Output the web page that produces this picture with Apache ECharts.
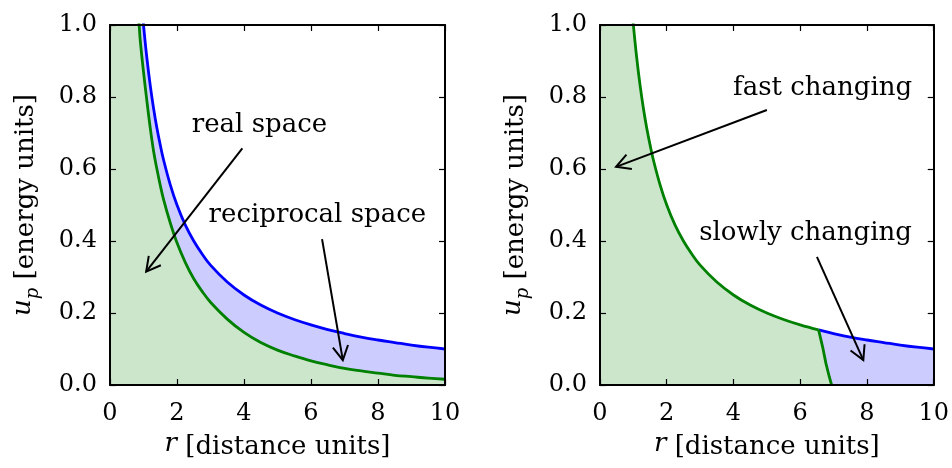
<!DOCTYPE html>
<html><head><meta charset="utf-8">
<script src="https://cdn.jsdelivr.net/npm/echarts@6/dist/echarts.min.js"></script>
<style>html,body{margin:0;padding:0;background:#fff}#c{width:952px;height:468px}</style>
</head><body><div id="c"></div>
<script>
const FONT = "'DejaVu Serif', serif";

// ---- Left panel data (r in distance units, u_p in energy units) ----
const leftBlueR = [0.95,1.0,1.1,1.2,1.3,1.4,1.5,1.6,1.8,2.0,2.25,2.5,2.75,3.0,3.5,4.0,4.5,5.0,5.5,6.0,6.5,7.0,7.5,8.0,8.5,9.0,9.5,10.0];
const leftBlueU = [1.05,1.0,0.909,0.833,0.769,0.714,0.667,0.625,0.556,0.5,0.444,0.4,0.364,0.333,0.286,0.25,0.222,0.2,0.182,0.167,0.154,0.143,0.133,0.125,0.118,0.111,0.105,0.1];
const leftGreenR = [0.82,0.87,0.9,1.0,1.1,1.2,1.3,1.4,1.5,1.6,1.8,2.0,2.25,2.5,2.75,3.0,3.5,4.0,4.5,5.0,5.5,6.0,6.5,7.0,7.5,8.0,8.5,9.0,9.5,10.0];
const leftGreenU = [1.05,1.0,0.96,0.87,0.79,0.715,0.65,0.60,0.555,0.515,0.45,0.395,0.34,0.295,0.26,0.23,0.183,0.146,0.118,0.097,0.081,0.067,0.056,0.046,0.039,0.033,0.027,0.023,0.019,0.016];

// ---- Right panel data ----
const rightGreenR = [0.95,1.0,1.1,1.2,1.3,1.4,1.5,1.6,1.8,2.0,2.25,2.5,2.75,3.0,3.5,4.0,4.5,5.0,5.5,6.0,6.55];
const rightGreenU = [1.05,1.0,0.909,0.833,0.769,0.714,0.667,0.625,0.556,0.5,0.444,0.4,0.364,0.333,0.286,0.25,0.222,0.2,0.182,0.167,0.153];
const rightDropR = [6.55,6.67,6.77,6.87,6.94];
const rightDropU = [0.153,0.106,0.060,0.023,0.0];
const rightBlueR = [6.55,7.0,7.5,8.0,8.5,9.0,9.5,10.0];
const rightBlueU = [0.153,0.143,0.133,0.125,0.118,0.111,0.105,0.1];

// ---- Annotations ----
const leftLabels = ['real space', 'reciprocal space'];
const leftLabelPos = [[4.46, 0.722], [6.19, 0.472]];
const leftArrows = [[3.95, 0.657, 1.08, 0.315], [6.33, 0.405, 6.95, 0.069]];
const rightLabels = ['fast changing', 'slowly changing'];
const rightLabelPos = [[6.67, 0.825], [6.16, 0.422]];
const rightArrows = [[5.0, 0.764, 0.48, 0.606], [6.5, 0.356, 7.89, 0.069]];

// ---- Axis settings ----
const xMin = 0, xMax = 10, xStep = 2;
const yMin = 0, yMax = 1, yStep = 0.2;
const xName = '{it|r} [distance units]';
const yName = '{it|u}{sub|p} [energy units]';

const pairs = (rs, us) => rs.map((r, i) => [r, us[i]]);

const TXT = 26, TICK = 24;
const richStyles = {
  it: {fontStyle: 'italic', fontFamily: FONT, fontSize: TXT, color: '#000', lineHeight: 32, verticalAlign: 'top'},
  sub: {fontStyle: 'italic', fontFamily: FONT, fontSize: 18, color: '#000', lineHeight: 18, verticalAlign: 'bottom'}
};
const nameStyle = {fontFamily: FONT, fontSize: TXT, color: '#000', lineHeight: 32, rich: richStyles};

const axLine = {show: true, onZero: false, lineStyle: {color: '#000', width: 2}};
const axTick = {show: true, inside: true, length: 6, lineStyle: {color: '#000', width: 1.2}};

function xAxes(gi) {
  return [
    {gridIndex: gi, type: 'value', min: xMin, max: xMax, interval: xStep, position: 'bottom',
     axisLine: axLine, axisTick: axTick, splitLine: {show: false}, z: 10,
     axisLabel: {margin: 17, color: '#000', fontFamily: FONT, fontSize: TICK},
     name: xName, nameLocation: 'middle', nameGap: 40, nameTextStyle: nameStyle},
    {gridIndex: gi, type: 'value', min: xMin, max: xMax, interval: xStep, position: 'top',
     axisLine: axLine, axisTick: axTick, splitLine: {show: false}, z: 10,
     axisLabel: {show: false}}
  ];
}
function yAxes(gi) {
  return [
    {gridIndex: gi, type: 'value', min: yMin, max: yMax, interval: yStep, position: 'left',
     axisLine: axLine, axisTick: axTick, splitLine: {show: false}, z: 10,
     axisLabel: {margin: 13, color: '#000', fontFamily: FONT, fontSize: TICK, formatter: v => v.toFixed(1)},
     name: yName, nameLocation: 'middle', nameGap: 68, nameTextStyle: nameStyle},
    {gridIndex: gi, type: 'value', min: yMin, max: yMax, interval: yStep, position: 'right',
     axisLine: axLine, axisTick: axTick, splitLine: {show: false}, z: 10,
     axisLabel: {show: false}}
  ];
}

function fillSeries(ax, data, color, z) {
  return {type: 'line', xAxisIndex: ax, yAxisIndex: ax, data: data, symbol: 'none', showSymbol: false,
    smooth: false, lineStyle: {width: 0, opacity: 0},
    areaStyle: {color: color, opacity: 1}, z: z, silent: true};
}
function strokeSeries(ax, data, color, z, smooth) {
  return {type: 'line', xAxisIndex: ax, yAxisIndex: ax, data: data, symbol: 'none', showSymbol: false,
    smooth: smooth, lineStyle: {width: 2.8, color: color}, z: z, silent: true};
}
function arrowSeries(ax, data) {
  return {type: 'custom', xAxisIndex: ax, yAxisIndex: ax, data: data, z: 6, clip: false, silent: true,
    renderItem: function (params, api) {
      const p1 = api.coord([api.value(0), api.value(1)]);
      const p2 = api.coord([api.value(2), api.value(3)]);
      const ang = Math.atan2(p1[1] - p2[1], p1[0] - p2[0]);
      const L = 16, a = 0.5;
      const h1 = [p2[0] + L * Math.cos(ang + a), p2[1] + L * Math.sin(ang + a)];
      const h2 = [p2[0] + L * Math.cos(ang - a), p2[1] + L * Math.sin(ang - a)];
      return {type: 'group', children: [
        {type: 'line', shape: {x1: p1[0], y1: p1[1], x2: p2[0], y2: p2[1]}, style: {stroke: '#000', lineWidth: 2}},
        {type: 'polyline', shape: {points: [h1, p2, h2]}, style: {stroke: '#000', lineWidth: 2, fill: null}}
      ]};
    }};
}
function labelSeries(ax, data, labels) {
  return {type: 'custom', xAxisIndex: ax, yAxisIndex: ax, data: data, z: 6, clip: false, silent: true,
    renderItem: function (params, api) {
      const p = api.coord([api.value(0), api.value(1)]);
      return {type: 'text', x: p[0], y: p[1], style: {text: labels[params.dataIndex],
        fontFamily: FONT, fontSize: TXT, fill: '#000', align: 'center', verticalAlign: 'middle'}};
    }};
}

const chart = echarts.init(document.getElementById('c'), null, {renderer: 'canvas'});
chart.setOption({
  animation: false,
  backgroundColor: '#fff',
  grid: [
    {left: 110, top: 25, width: 335, height: 360},
    {left: 600, top: 25, width: 335, height: 360}
  ],
  xAxis: xAxes(0).concat(xAxes(1)),
  yAxis: yAxes(0).concat(yAxes(1)),
  series: [
    fillSeries(0, [[0, 1]].concat(pairs(leftBlueR, leftBlueU)), '#ccccff', 1),
    fillSeries(0, [[0, 1]].concat(pairs(leftGreenR, leftGreenU)), '#cce6cc', 2),
    strokeSeries(0, pairs(leftBlueR, leftBlueU), '#0000ff', 3, 0.4),
    strokeSeries(0, pairs(leftGreenR, leftGreenU), '#008000', 4, 0.4),
    arrowSeries(0, leftArrows),
    labelSeries(0, leftLabelPos, leftLabels),

    fillSeries(2, pairs(rightBlueR, rightBlueU), '#ccccff', 1),
    fillSeries(2, [[0, 1]].concat(pairs(rightGreenR, rightGreenU)).concat(pairs(rightDropR, rightDropU)), '#cce6cc', 2),
    strokeSeries(2, pairs(rightBlueR, rightBlueU), '#0000ff', 3, 0.4),
    strokeSeries(2, pairs(rightGreenR, rightGreenU), '#008000', 4, 0.4),
    strokeSeries(2, pairs(rightDropR, rightDropU), '#008000', 4, false),
    arrowSeries(2, rightArrows),
    labelSeries(2, rightLabelPos, rightLabels)
  ]
});
</script></body></html>
